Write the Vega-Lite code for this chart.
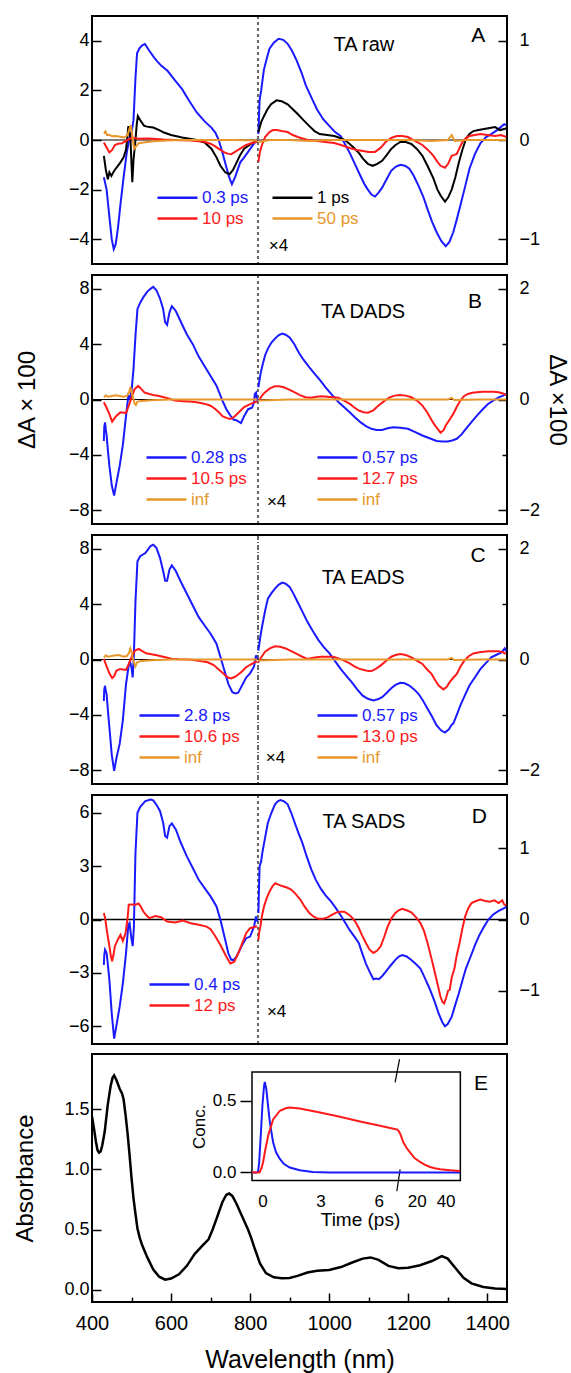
{
  "$schema": "https://vega.github.io/schema/vega-lite/v6.json",
  "padding": {"left": 12, "top": 14, "right": 2, "bottom": 2},
  "spacing": 7,
  "datasets": {
    "panelA": [
      {"s":"0.3 ps","wl":430,"v":-1.5},{"s":"0.3 ps","wl":437,"v":-2.0},{"s":"0.3 ps","wl":444,"v":-3.1},{"s":"0.3 ps","wl":450,"v":-4.0},{"s":"0.3 ps","wl":455,"v":-4.4},{"s":"0.3 ps","wl":460,"v":-4.2},{"s":"0.3 ps","wl":466,"v":-3.5},{"s":"0.3 ps","wl":472,"v":-2.6},{"s":"0.3 ps","wl":480,"v":-1.5},{"s":"0.3 ps","wl":488,"v":-0.5},{"s":"0.3 ps","wl":495,"v":0.1},{"s":"0.3 ps","wl":500,"v":0.3},{"s":"0.3 ps","wl":505,"v":0.8},{"s":"0.3 ps","wl":510,"v":2.5},{"s":"0.3 ps","wl":514,"v":3.5},{"s":"0.3 ps","wl":520,"v":3.7},{"s":"0.3 ps","wl":527,"v":3.82},{"s":"0.3 ps","wl":534,"v":3.87},{"s":"0.3 ps","wl":545,"v":3.6},{"s":"0.3 ps","wl":556,"v":3.35},{"s":"0.3 ps","wl":564,"v":3.19},{"s":"0.3 ps","wl":575,"v":3.0},{"s":"0.3 ps","wl":591,"v":2.79},{"s":"0.3 ps","wl":610,"v":2.4},{"s":"0.3 ps","wl":628,"v":2.05},{"s":"0.3 ps","wl":645,"v":1.6},{"s":"0.3 ps","wl":665,"v":1.11},{"s":"0.3 ps","wl":685,"v":0.75},{"s":"0.3 ps","wl":702,"v":0.5},{"s":"0.3 ps","wl":712,"v":0.3},{"s":"0.3 ps","wl":720,"v":0.03},{"s":"0.3 ps","wl":730,"v":-0.5},{"s":"0.3 ps","wl":739,"v":-1.04},{"s":"0.3 ps","wl":747,"v":-1.5},{"s":"0.3 ps","wl":754,"v":-1.78},{"s":"0.3 ps","wl":762,"v":-1.5},{"s":"0.3 ps","wl":775,"v":-0.9},{"s":"0.3 ps","wl":785,"v":-0.7},{"s":"0.3 ps","wl":794,"v":-0.5},{"s":"0.3 ps","wl":803,"v":-0.3},{"s":"0.3 ps","wl":812,"v":-0.1},{"s":"0.3 ps","wl":818,"v":0.0},
      {"s":"0.3 ps","wl":821,"v":0.06},{"s":"0.3 ps","wl":824,"v":0.4},{"s":"0.3 ps","wl":828,"v":0.5},{"s":"0.3 ps","wl":835,"v":0.71},{"s":"0.3 ps","wl":842,"v":0.82},{"s":"0.3 ps","wl":849,"v":0.92},{"s":"0.3 ps","wl":860,"v":0.98},{"s":"0.3 ps","wl":872,"v":1.02},{"s":"0.3 ps","wl":884,"v":1.01},{"s":"0.3 ps","wl":895,"v":0.97},{"s":"0.3 ps","wl":906,"v":0.9},{"s":"0.3 ps","wl":918,"v":0.8},{"s":"0.3 ps","wl":930,"v":0.68},{"s":"0.3 ps","wl":941,"v":0.55},{"s":"0.3 ps","wl":955,"v":0.43},{"s":"0.3 ps","wl":969,"v":0.31},{"s":"0.3 ps","wl":985,"v":0.21},{"s":"0.3 ps","wl":1001,"v":0.14},{"s":"0.3 ps","wl":1015,"v":0.08},{"s":"0.3 ps","wl":1029,"v":0.04},{"s":"0.3 ps","wl":1040,"v":-0.04},{"s":"0.3 ps","wl":1052,"v":-0.13},{"s":"0.3 ps","wl":1065,"v":-0.24},{"s":"0.3 ps","wl":1079,"v":-0.36},{"s":"0.3 ps","wl":1090,"v":-0.45},{"s":"0.3 ps","wl":1098,"v":-0.5},{"s":"0.3 ps","wl":1107,"v":-0.55},{"s":"0.3 ps","wl":1116,"v":-0.57},{"s":"0.3 ps","wl":1125,"v":-0.53},{"s":"0.3 ps","wl":1134,"v":-0.48},{"s":"0.3 ps","wl":1146,"v":-0.39},{"s":"0.3 ps","wl":1157,"v":-0.31},{"s":"0.3 ps","wl":1168,"v":-0.27},{"s":"0.3 ps","wl":1180,"v":-0.25},{"s":"0.3 ps","wl":1192,"v":-0.26},{"s":"0.3 ps","wl":1203,"v":-0.29},{"s":"0.3 ps","wl":1214,"v":-0.36},{"s":"0.3 ps","wl":1226,"v":-0.46},{"s":"0.3 ps","wl":1238,"v":-0.57},{"s":"0.3 ps","wl":1249,"v":-0.7},{"s":"0.3 ps","wl":1260,"v":-0.82},{"s":"0.3 ps","wl":1272,"v":-0.93},{"s":"0.3 ps","wl":1284,"v":-1.02},{"s":"0.3 ps","wl":1295,"v":-1.07},{"s":"0.3 ps","wl":1304,"v":-1.03},{"s":"0.3 ps","wl":1314,"v":-0.93},{"s":"0.3 ps","wl":1323,"v":-0.8},{"s":"0.3 ps","wl":1332,"v":-0.66},{"s":"0.3 ps","wl":1344,"v":-0.47},{"s":"0.3 ps","wl":1355,"v":-0.29},{"s":"0.3 ps","wl":1369,"v":-0.14},{"s":"0.3 ps","wl":1383,"v":-0.03},{"s":"0.3 ps","wl":1397,"v":0.03},{"s":"0.3 ps","wl":1410,"v":0.06},{"s":"0.3 ps","wl":1425,"v":0.1},{"s":"0.3 ps","wl":1443,"v":0.16},{"s":"0.3 ps","wl":1448,"v":0.15},
      {"s":"1 ps","wl":430,"v":-0.64},{"s":"1 ps","wl":435,"v":-1.2},{"s":"1 ps","wl":440,"v":-1.58},{"s":"1 ps","wl":444,"v":-1.3},{"s":"1 ps","wl":449,"v":-1.45},{"s":"1 ps","wl":454,"v":-1.3},{"s":"1 ps","wl":458,"v":-1.2},{"s":"1 ps","wl":465,"v":-1.05},{"s":"1 ps","wl":472,"v":-0.9},{"s":"1 ps","wl":480,"v":-0.7},{"s":"1 ps","wl":486,"v":-0.4},{"s":"1 ps","wl":490,"v":0.2},{"s":"1 ps","wl":492,"v":0.56},{"s":"1 ps","wl":495,"v":0.3},{"s":"1 ps","wl":497,"v":0.16},{"s":"1 ps","wl":500,"v":-1.0},{"s":"1 ps","wl":502,"v":-1.7},{"s":"1 ps","wl":505,"v":-0.8},{"s":"1 ps","wl":510,"v":0.0},{"s":"1 ps","wl":513,"v":0.6},{"s":"1 ps","wl":516,"v":0.97},{"s":"1 ps","wl":524,"v":0.75},{"s":"1 ps","wl":532,"v":0.57},{"s":"1 ps","wl":545,"v":0.52},{"s":"1 ps","wl":555,"v":0.5},{"s":"1 ps","wl":570,"v":0.4},{"s":"1 ps","wl":582,"v":0.3},{"s":"1 ps","wl":600,"v":0.2},{"s":"1 ps","wl":628,"v":0.1},{"s":"1 ps","wl":665,"v":0.0},{"s":"1 ps","wl":685,"v":-0.1},{"s":"1 ps","wl":702,"v":-0.35},{"s":"1 ps","wl":715,"v":-0.7},{"s":"1 ps","wl":725,"v":-1.04},{"s":"1 ps","wl":737,"v":-1.3},{"s":"1 ps","wl":748,"v":-1.38},{"s":"1 ps","wl":757,"v":-1.2},{"s":"1 ps","wl":766,"v":-0.9},{"s":"1 ps","wl":775,"v":-0.6},{"s":"1 ps","wl":785,"v":-0.35},{"s":"1 ps","wl":803,"v":-0.15},{"s":"1 ps","wl":818,"v":0.0},
      {"s":"1 ps","wl":821,"v":0.08},{"s":"1 ps","wl":828,"v":0.18},{"s":"1 ps","wl":835,"v":0.24},{"s":"1 ps","wl":844,"v":0.31},{"s":"1 ps","wl":853,"v":0.36},{"s":"1 ps","wl":867,"v":0.4},{"s":"1 ps","wl":880,"v":0.39},{"s":"1 ps","wl":895,"v":0.36},{"s":"1 ps","wl":908,"v":0.31},{"s":"1 ps","wl":921,"v":0.26},{"s":"1 ps","wl":935,"v":0.2},{"s":"1 ps","wl":950,"v":0.14},{"s":"1 ps","wl":963,"v":0.09},{"s":"1 ps","wl":976,"v":0.06},{"s":"1 ps","wl":995,"v":0.05},{"s":"1 ps","wl":1013,"v":0.04},{"s":"1 ps","wl":1028,"v":0.02},{"s":"1 ps","wl":1040,"v":0.0},{"s":"1 ps","wl":1052,"v":-0.04},{"s":"1 ps","wl":1063,"v":-0.08},{"s":"1 ps","wl":1075,"v":-0.13},{"s":"1 ps","wl":1086,"v":-0.19},{"s":"1 ps","wl":1098,"v":-0.24},{"s":"1 ps","wl":1110,"v":-0.26},{"s":"1 ps","wl":1122,"v":-0.24},{"s":"1 ps","wl":1134,"v":-0.21},{"s":"1 ps","wl":1146,"v":-0.15},{"s":"1 ps","wl":1157,"v":-0.09},{"s":"1 ps","wl":1168,"v":-0.05},{"s":"1 ps","wl":1180,"v":-0.02},{"s":"1 ps","wl":1194,"v":-0.02},{"s":"1 ps","wl":1208,"v":-0.04},{"s":"1 ps","wl":1222,"v":-0.09},{"s":"1 ps","wl":1236,"v":-0.16},{"s":"1 ps","wl":1250,"v":-0.27},{"s":"1 ps","wl":1264,"v":-0.39},{"s":"1 ps","wl":1274,"v":-0.5},{"s":"1 ps","wl":1282,"v":-0.56},{"s":"1 ps","wl":1293,"v":-0.62},{"s":"1 ps","wl":1301,"v":-0.58},{"s":"1 ps","wl":1310,"v":-0.5},{"s":"1 ps","wl":1319,"v":-0.38},{"s":"1 ps","wl":1328,"v":-0.23},{"s":"1 ps","wl":1337,"v":-0.1},{"s":"1 ps","wl":1346,"v":0.01},{"s":"1 ps","wl":1355,"v":0.06},{"s":"1 ps","wl":1365,"v":0.09},{"s":"1 ps","wl":1378,"v":0.1},{"s":"1 ps","wl":1392,"v":0.11},{"s":"1 ps","wl":1406,"v":0.12},{"s":"1 ps","wl":1420,"v":0.13},{"s":"1 ps","wl":1432,"v":0.1},{"s":"1 ps","wl":1443,"v":0.11},{"s":"1 ps","wl":1448,"v":0.12},
      {"s":"10 ps","wl":430,"v":-0.1},{"s":"10 ps","wl":437,"v":-0.3},{"s":"10 ps","wl":444,"v":-0.5},{"s":"10 ps","wl":451,"v":-0.4},{"s":"10 ps","wl":458,"v":-0.2},{"s":"10 ps","wl":466,"v":-0.15},{"s":"10 ps","wl":476,"v":-0.13},{"s":"10 ps","wl":484,"v":-0.05},{"s":"10 ps","wl":490,"v":0.0},{"s":"10 ps","wl":496,"v":0.05},{"s":"10 ps","wl":502,"v":0.1},{"s":"10 ps","wl":510,"v":0.07},{"s":"10 ps","wl":518,"v":0.05},{"s":"10 ps","wl":540,"v":0.06},{"s":"10 ps","wl":555,"v":0.05},{"s":"10 ps","wl":580,"v":0.02},{"s":"10 ps","wl":610,"v":0.0},{"s":"10 ps","wl":650,"v":-0.02},{"s":"10 ps","wl":683,"v":-0.07},{"s":"10 ps","wl":700,"v":-0.15},{"s":"10 ps","wl":712,"v":-0.26},{"s":"10 ps","wl":720,"v":-0.35},{"s":"10 ps","wl":735,"v":-0.5},{"s":"10 ps","wl":745,"v":-0.56},{"s":"10 ps","wl":752,"v":-0.57},{"s":"10 ps","wl":760,"v":-0.5},{"s":"10 ps","wl":768,"v":-0.42},{"s":"10 ps","wl":775,"v":-0.35},{"s":"10 ps","wl":790,"v":-0.2},{"s":"10 ps","wl":803,"v":-0.13},{"s":"10 ps","wl":818,"v":-0.07},
      {"s":"10 ps","wl":821,"v":-0.22},{"s":"10 ps","wl":825,"v":-0.12},{"s":"10 ps","wl":829,"v":-0.06},{"s":"10 ps","wl":838,"v":0.03},{"s":"10 ps","wl":849,"v":0.08},{"s":"10 ps","wl":858,"v":0.1},{"s":"10 ps","wl":867,"v":0.1},{"s":"10 ps","wl":880,"v":0.09},{"s":"10 ps","wl":895,"v":0.08},{"s":"10 ps","wl":908,"v":0.05},{"s":"10 ps","wl":921,"v":0.03},{"s":"10 ps","wl":945,"v":0.0},{"s":"10 ps","wl":969,"v":-0.01},{"s":"10 ps","wl":990,"v":-0.02},{"s":"10 ps","wl":1013,"v":-0.03},{"s":"10 ps","wl":1030,"v":-0.05},{"s":"10 ps","wl":1052,"v":-0.08},{"s":"10 ps","wl":1070,"v":-0.1},{"s":"10 ps","wl":1086,"v":-0.11},{"s":"10 ps","wl":1100,"v":-0.12},{"s":"10 ps","wl":1116,"v":-0.12},{"s":"10 ps","wl":1130,"v":-0.08},{"s":"10 ps","wl":1143,"v":-0.02},{"s":"10 ps","wl":1157,"v":0.02},{"s":"10 ps","wl":1171,"v":0.04},{"s":"10 ps","wl":1185,"v":0.04},{"s":"10 ps","wl":1199,"v":0.03},{"s":"10 ps","wl":1217,"v":-0.01},{"s":"10 ps","wl":1236,"v":-0.05},{"s":"10 ps","wl":1250,"v":-0.1},{"s":"10 ps","wl":1264,"v":-0.16},{"s":"10 ps","wl":1274,"v":-0.22},{"s":"10 ps","wl":1282,"v":-0.26},{"s":"10 ps","wl":1293,"v":-0.28},{"s":"10 ps","wl":1301,"v":-0.24},{"s":"10 ps","wl":1310,"v":-0.16},{"s":"10 ps","wl":1317,"v":-0.15},{"s":"10 ps","wl":1323,"v":-0.14},{"s":"10 ps","wl":1330,"v":-0.08},{"s":"10 ps","wl":1337,"v":-0.02},{"s":"10 ps","wl":1346,"v":0.02},{"s":"10 ps","wl":1355,"v":0.04},{"s":"10 ps","wl":1369,"v":0.05},{"s":"10 ps","wl":1383,"v":0.06},{"s":"10 ps","wl":1400,"v":0.05},{"s":"10 ps","wl":1420,"v":0.04},{"s":"10 ps","wl":1435,"v":0.05},{"s":"10 ps","wl":1448,"v":0.03},
      {"s":"50 ps","wl":430,"v":0.27},{"s":"50 ps","wl":434,"v":0.35},{"s":"50 ps","wl":438,"v":0.2},{"s":"50 ps","wl":444,"v":0.2},{"s":"50 ps","wl":452,"v":0.15},{"s":"50 ps","wl":460,"v":0.16},{"s":"50 ps","wl":472,"v":0.13},{"s":"50 ps","wl":482,"v":0.1},{"s":"50 ps","wl":490,"v":0.2},{"s":"50 ps","wl":495,"v":0.46},{"s":"50 ps","wl":498,"v":0.6},{"s":"50 ps","wl":501,"v":0.3},{"s":"50 ps","wl":504,"v":-0.1},{"s":"50 ps","wl":507,"v":-0.35},{"s":"50 ps","wl":512,"v":-0.25},{"s":"50 ps","wl":518,"v":-0.13},{"s":"50 ps","wl":530,"v":-0.1},{"s":"50 ps","wl":555,"v":-0.05},{"s":"50 ps","wl":590,"v":-0.02},{"s":"50 ps","wl":628,"v":0.0},{"s":"50 ps","wl":700,"v":0.0},{"s":"50 ps","wl":760,"v":0.0},{"s":"50 ps","wl":818,"v":-0.02},
      {"s":"50 ps","wl":821,"v":-0.02},{"s":"50 ps","wl":850,"v":0.0},{"s":"50 ps","wl":900,"v":0.0},{"s":"50 ps","wl":950,"v":-0.01},{"s":"50 ps","wl":1000,"v":0.0},{"s":"50 ps","wl":1050,"v":0.0},{"s":"50 ps","wl":1100,"v":0.0},{"s":"50 ps","wl":1150,"v":0.0},{"s":"50 ps","wl":1200,"v":0.0},{"s":"50 ps","wl":1260,"v":-0.01},{"s":"50 ps","wl":1300,"v":0.0},{"s":"50 ps","wl":1310,"v":0.05},{"s":"50 ps","wl":1318,"v":-0.01},{"s":"50 ps","wl":1350,"v":0.0},{"s":"50 ps","wl":1400,"v":0.0},{"s":"50 ps","wl":1448,"v":0.0}
    ],
    "panelB": [
      {"s":"0.28 ps","wl":430,"v":-3.0},{"s":"0.28 ps","wl":431,"v":-2.0},{"s":"0.28 ps","wl":433,"v":-1.65},{"s":"0.28 ps","wl":435,"v":-2.2},{"s":"0.28 ps","wl":437,"v":-2.6},{"s":"0.28 ps","wl":440,"v":-3.6},{"s":"0.28 ps","wl":444,"v":-4.8},{"s":"0.28 ps","wl":450,"v":-6.2},{"s":"0.28 ps","wl":456,"v":-6.95},{"s":"0.28 ps","wl":462,"v":-6.0},{"s":"0.28 ps","wl":470,"v":-4.8},{"s":"0.28 ps","wl":478,"v":-3.3},{"s":"0.28 ps","wl":486,"v":-1.2},{"s":"0.28 ps","wl":492,"v":0.28},{"s":"0.28 ps","wl":496,"v":0.04},{"s":"0.28 ps","wl":500,"v":0.6},{"s":"0.28 ps","wl":505,"v":2.2},{"s":"0.28 ps","wl":510,"v":4.6},{"s":"0.28 ps","wl":515,"v":6.55},{"s":"0.28 ps","wl":522,"v":7.0},{"s":"0.28 ps","wl":530,"v":7.4},{"s":"0.28 ps","wl":540,"v":7.8},{"s":"0.28 ps","wl":548,"v":8.0},{"s":"0.28 ps","wl":555,"v":8.15},{"s":"0.28 ps","wl":563,"v":7.9},{"s":"0.28 ps","wl":572,"v":7.3},{"s":"0.28 ps","wl":580,"v":6.55},{"s":"0.28 ps","wl":585,"v":5.6},{"s":"0.28 ps","wl":590,"v":5.4},{"s":"0.28 ps","wl":596,"v":6.3},{"s":"0.28 ps","wl":602,"v":6.75},{"s":"0.28 ps","wl":612,"v":6.4},{"s":"0.28 ps","wl":625,"v":5.6},{"s":"0.28 ps","wl":640,"v":4.7},{"s":"0.28 ps","wl":655,"v":4.0},{"s":"0.28 ps","wl":670,"v":3.1},{"s":"0.28 ps","wl":685,"v":2.4},{"s":"0.28 ps","wl":700,"v":1.7},{"s":"0.28 ps","wl":715,"v":1.0},{"s":"0.28 ps","wl":730,"v":-0.08},{"s":"0.28 ps","wl":740,"v":-0.7},{"s":"0.28 ps","wl":750,"v":-1.16},{"s":"0.28 ps","wl":758,"v":-1.45},{"s":"0.28 ps","wl":765,"v":-1.5},{"s":"0.28 ps","wl":771,"v":-1.6},{"s":"0.28 ps","wl":777,"v":-1.7},{"s":"0.28 ps","wl":785,"v":-1.2},{"s":"0.28 ps","wl":795,"v":-0.7},{"s":"0.28 ps","wl":805,"v":-0.6},{"s":"0.28 ps","wl":810,"v":-0.2},{"s":"0.28 ps","wl":812,"v":0.4},{"s":"0.28 ps","wl":815,"v":0.5},{"s":"0.28 ps","wl":818,"v":-0.1},
      {"s":"10.5 ps","wl":430,"v":-0.2},{"s":"10.5 ps","wl":437,"v":-0.6},{"s":"10.5 ps","wl":444,"v":-1.05},{"s":"10.5 ps","wl":451,"v":-1.6},{"s":"10.5 ps","wl":456,"v":-1.4},{"s":"10.5 ps","wl":462,"v":-1.17},{"s":"10.5 ps","wl":472,"v":-0.93},{"s":"10.5 ps","wl":480,"v":-0.95},{"s":"10.5 ps","wl":486,"v":-0.98},{"s":"10.5 ps","wl":491,"v":-0.6},{"s":"10.5 ps","wl":496,"v":-0.2},{"s":"10.5 ps","wl":502,"v":0.3},{"s":"10.5 ps","wl":508,"v":0.76},{"s":"10.5 ps","wl":517,"v":0.98},{"s":"10.5 ps","wl":525,"v":0.75},{"s":"10.5 ps","wl":533,"v":0.5},{"s":"10.5 ps","wl":545,"v":0.4},{"s":"10.5 ps","wl":555,"v":0.33},{"s":"10.5 ps","wl":570,"v":0.25},{"s":"10.5 ps","wl":582,"v":0.16},{"s":"10.5 ps","wl":596,"v":0.05},{"s":"10.5 ps","wl":610,"v":-0.08},{"s":"10.5 ps","wl":630,"v":-0.12},{"s":"10.5 ps","wl":647,"v":-0.15},{"s":"10.5 ps","wl":665,"v":-0.2},{"s":"10.5 ps","wl":684,"v":-0.3},{"s":"10.5 ps","wl":700,"v":-0.45},{"s":"10.5 ps","wl":712,"v":-0.69},{"s":"10.5 ps","wl":722,"v":-0.95},{"s":"10.5 ps","wl":730,"v":-1.2},{"s":"10.5 ps","wl":740,"v":-1.33},{"s":"10.5 ps","wl":750,"v":-1.4},{"s":"10.5 ps","wl":758,"v":-1.3},{"s":"10.5 ps","wl":767,"v":-1.05},{"s":"10.5 ps","wl":776,"v":-0.8},{"s":"10.5 ps","wl":785,"v":-0.55},{"s":"10.5 ps","wl":795,"v":-0.4},{"s":"10.5 ps","wl":803,"v":-0.3},{"s":"10.5 ps","wl":812,"v":-0.2},{"s":"10.5 ps","wl":818,"v":-0.15},
      {"s":"inf","wl":430,"v":0.15},{"s":"inf","wl":435,"v":0.3},{"s":"inf","wl":440,"v":0.2},{"s":"inf","wl":450,"v":0.25},{"s":"inf","wl":460,"v":0.3},{"s":"inf","wl":470,"v":0.25},{"s":"inf","wl":480,"v":0.2},{"s":"inf","wl":488,"v":0.25},{"s":"inf","wl":494,"v":0.5},{"s":"inf","wl":497,"v":0.9},{"s":"inf","wl":500,"v":0.6},{"s":"inf","wl":504,"v":0.1},{"s":"inf","wl":508,"v":-0.3},{"s":"inf","wl":511,"v":-0.4},{"s":"inf","wl":515,"v":-0.15},{"s":"inf","wl":525,"v":-0.1},{"s":"inf","wl":550,"v":-0.05},{"s":"inf","wl":600,"v":0.0},{"s":"inf","wl":700,"v":0.0},{"s":"inf","wl":818,"v":0.0},
      {"s":"0.57 ps","wl":821,"v":0.22},{"s":"0.57 ps","wl":826,"v":0.45},{"s":"0.57 ps","wl":831,"v":0.61},{"s":"0.57 ps","wl":838,"v":0.8},{"s":"0.57 ps","wl":845,"v":0.92},{"s":"0.57 ps","wl":854,"v":1.03},{"s":"0.57 ps","wl":863,"v":1.1},{"s":"0.57 ps","wl":872,"v":1.16},{"s":"0.57 ps","wl":881,"v":1.19},{"s":"0.57 ps","wl":890,"v":1.17},{"s":"0.57 ps","wl":900,"v":1.12},{"s":"0.57 ps","wl":912,"v":1.0},{"s":"0.57 ps","wl":923,"v":0.85},{"s":"0.57 ps","wl":936,"v":0.71},{"s":"0.57 ps","wl":950,"v":0.58},{"s":"0.57 ps","wl":964,"v":0.46},{"s":"0.57 ps","wl":978,"v":0.34},{"s":"0.57 ps","wl":991,"v":0.22},{"s":"0.57 ps","wl":1005,"v":0.1},{"s":"0.57 ps","wl":1024,"v":-0.05},{"s":"0.57 ps","wl":1038,"v":-0.14},{"s":"0.57 ps","wl":1052,"v":-0.23},{"s":"0.57 ps","wl":1065,"v":-0.32},{"s":"0.57 ps","wl":1079,"v":-0.41},{"s":"0.57 ps","wl":1093,"v":-0.48},{"s":"0.57 ps","wl":1107,"v":-0.53},{"s":"0.57 ps","wl":1120,"v":-0.55},{"s":"0.57 ps","wl":1134,"v":-0.55},{"s":"0.57 ps","wl":1148,"v":-0.52},{"s":"0.57 ps","wl":1162,"v":-0.5},{"s":"0.57 ps","wl":1180,"v":-0.51},{"s":"0.57 ps","wl":1199,"v":-0.53},{"s":"0.57 ps","wl":1218,"v":-0.59},{"s":"0.57 ps","wl":1236,"v":-0.65},{"s":"0.57 ps","wl":1254,"v":-0.7},{"s":"0.57 ps","wl":1272,"v":-0.75},{"s":"0.57 ps","wl":1286,"v":-0.76},{"s":"0.57 ps","wl":1300,"v":-0.76},{"s":"0.57 ps","wl":1311,"v":-0.74},{"s":"0.57 ps","wl":1323,"v":-0.71},{"s":"0.57 ps","wl":1335,"v":-0.63},{"s":"0.57 ps","wl":1346,"v":-0.53},{"s":"0.57 ps","wl":1360,"v":-0.41},{"s":"0.57 ps","wl":1374,"v":-0.29},{"s":"0.57 ps","wl":1388,"v":-0.18},{"s":"0.57 ps","wl":1402,"v":-0.08},{"s":"0.57 ps","wl":1415,"v":-0.02},{"s":"0.57 ps","wl":1429,"v":0.04},{"s":"0.57 ps","wl":1440,"v":0.07},{"s":"0.57 ps","wl":1448,"v":0.1},
      {"s":"12.7 ps","wl":823,"v":-0.01},{"s":"12.7 ps","wl":830,"v":0.07},{"s":"12.7 ps","wl":838,"v":0.13},{"s":"12.7 ps","wl":850,"v":0.2},{"s":"12.7 ps","wl":862,"v":0.24},{"s":"12.7 ps","wl":873,"v":0.24},{"s":"12.7 ps","wl":885,"v":0.22},{"s":"12.7 ps","wl":899,"v":0.18},{"s":"12.7 ps","wl":913,"v":0.13},{"s":"12.7 ps","wl":926,"v":0.08},{"s":"12.7 ps","wl":940,"v":0.04},{"s":"12.7 ps","wl":954,"v":0.03},{"s":"12.7 ps","wl":968,"v":0.05},{"s":"12.7 ps","wl":982,"v":0.06},{"s":"12.7 ps","wl":995,"v":0.05},{"s":"12.7 ps","wl":1010,"v":0.04},{"s":"12.7 ps","wl":1024,"v":0.03},{"s":"12.7 ps","wl":1038,"v":-0.02},{"s":"12.7 ps","wl":1052,"v":-0.08},{"s":"12.7 ps","wl":1063,"v":-0.14},{"s":"12.7 ps","wl":1075,"v":-0.2},{"s":"12.7 ps","wl":1087,"v":-0.23},{"s":"12.7 ps","wl":1098,"v":-0.24},{"s":"12.7 ps","wl":1111,"v":-0.2},{"s":"12.7 ps","wl":1125,"v":-0.11},{"s":"12.7 ps","wl":1139,"v":-0.03},{"s":"12.7 ps","wl":1153,"v":0.04},{"s":"12.7 ps","wl":1166,"v":0.07},{"s":"12.7 ps","wl":1180,"v":0.08},{"s":"12.7 ps","wl":1194,"v":0.07},{"s":"12.7 ps","wl":1208,"v":0.04},{"s":"12.7 ps","wl":1222,"v":-0.02},{"s":"12.7 ps","wl":1236,"v":-0.11},{"s":"12.7 ps","wl":1248,"v":-0.23},{"s":"12.7 ps","wl":1259,"v":-0.37},{"s":"12.7 ps","wl":1266,"v":-0.45},{"s":"12.7 ps","wl":1272,"v":-0.51},{"s":"12.7 ps","wl":1282,"v":-0.6},{"s":"12.7 ps","wl":1290,"v":-0.55},{"s":"12.7 ps","wl":1295,"v":-0.47},{"s":"12.7 ps","wl":1305,"v":-0.36},{"s":"12.7 ps","wl":1314,"v":-0.26},{"s":"12.7 ps","wl":1323,"v":-0.13},{"s":"12.7 ps","wl":1332,"v":-0.02},{"s":"12.7 ps","wl":1341,"v":0.06},{"s":"12.7 ps","wl":1351,"v":0.1},{"s":"12.7 ps","wl":1362,"v":0.12},{"s":"12.7 ps","wl":1374,"v":0.13},{"s":"12.7 ps","wl":1388,"v":0.14},{"s":"12.7 ps","wl":1402,"v":0.14},{"s":"12.7 ps","wl":1416,"v":0.14},{"s":"12.7 ps","wl":1429,"v":0.13},{"s":"12.7 ps","wl":1440,"v":0.11},{"s":"12.7 ps","wl":1447,"v":0.08},
      {"s":"inf","wl":821,"v":-0.02},{"s":"inf","wl":900,"v":0.0},{"s":"inf","wl":1000,"v":0.0},{"s":"inf","wl":1100,"v":0.0},{"s":"inf","wl":1200,"v":0.0},{"s":"inf","wl":1300,"v":0.0},{"s":"inf","wl":1310,"v":0.03},{"s":"inf","wl":1316,"v":-0.01},{"s":"inf","wl":1380,"v":0.0},{"s":"inf","wl":1448,"v":0.0}
    ],
    "panelC": [
      {"s":"2.8 ps","wl":430,"v":-3.0},{"s":"2.8 ps","wl":431,"v":-2.2},{"s":"2.8 ps","wl":433,"v":-1.9},{"s":"2.8 ps","wl":435,"v":-2.3},{"s":"2.8 ps","wl":437,"v":-2.5},{"s":"2.8 ps","wl":440,"v":-3.6},{"s":"2.8 ps","wl":444,"v":-4.9},{"s":"2.8 ps","wl":450,"v":-6.9},{"s":"2.8 ps","wl":456,"v":-8.05},{"s":"2.8 ps","wl":462,"v":-7.1},{"s":"2.8 ps","wl":470,"v":-6.1},{"s":"2.8 ps","wl":478,"v":-4.4},{"s":"2.8 ps","wl":486,"v":-1.8},{"s":"2.8 ps","wl":492,"v":-0.6},{"s":"2.8 ps","wl":496,"v":-0.1},{"s":"2.8 ps","wl":500,"v":-0.6},{"s":"2.8 ps","wl":503,"v":-1.3},{"s":"2.8 ps","wl":506,"v":0.35},{"s":"2.8 ps","wl":510,"v":4.2},{"s":"2.8 ps","wl":515,"v":7.1},{"s":"2.8 ps","wl":522,"v":7.47},{"s":"2.8 ps","wl":535,"v":7.7},{"s":"2.8 ps","wl":548,"v":8.2},{"s":"2.8 ps","wl":555,"v":8.3},{"s":"2.8 ps","wl":563,"v":8.07},{"s":"2.8 ps","wl":572,"v":7.35},{"s":"2.8 ps","wl":580,"v":6.4},{"s":"2.8 ps","wl":585,"v":5.7},{"s":"2.8 ps","wl":590,"v":5.7},{"s":"2.8 ps","wl":596,"v":6.5},{"s":"2.8 ps","wl":602,"v":6.8},{"s":"2.8 ps","wl":612,"v":6.4},{"s":"2.8 ps","wl":625,"v":5.6},{"s":"2.8 ps","wl":640,"v":4.75},{"s":"2.8 ps","wl":655,"v":3.9},{"s":"2.8 ps","wl":670,"v":3.06},{"s":"2.8 ps","wl":685,"v":2.46},{"s":"2.8 ps","wl":700,"v":1.86},{"s":"2.8 ps","wl":715,"v":1.14},{"s":"2.8 ps","wl":725,"v":0.18},{"s":"2.8 ps","wl":735,"v":-0.8},{"s":"2.8 ps","wl":745,"v":-1.76},{"s":"2.8 ps","wl":755,"v":-2.36},{"s":"2.8 ps","wl":763,"v":-2.45},{"s":"2.8 ps","wl":770,"v":-2.4},{"s":"2.8 ps","wl":780,"v":-1.85},{"s":"2.8 ps","wl":790,"v":-1.3},{"s":"2.8 ps","wl":800,"v":-1.0},{"s":"2.8 ps","wl":810,"v":-0.5},{"s":"2.8 ps","wl":815,"v":0.3},{"s":"2.8 ps","wl":818,"v":0.0},
      {"s":"10.6 ps","wl":430,"v":0.05},{"s":"10.6 ps","wl":437,"v":-0.5},{"s":"10.6 ps","wl":444,"v":-1.0},{"s":"10.6 ps","wl":451,"v":-1.35},{"s":"10.6 ps","wl":456,"v":-1.2},{"s":"10.6 ps","wl":462,"v":-0.8},{"s":"10.6 ps","wl":470,"v":-0.7},{"s":"10.6 ps","wl":476,"v":-0.7},{"s":"10.6 ps","wl":486,"v":-0.75},{"s":"10.6 ps","wl":492,"v":-0.4},{"s":"10.6 ps","wl":498,"v":0.05},{"s":"10.6 ps","wl":503,"v":0.35},{"s":"10.6 ps","wl":509,"v":0.65},{"s":"10.6 ps","wl":518,"v":0.77},{"s":"10.6 ps","wl":527,"v":0.6},{"s":"10.6 ps","wl":537,"v":0.45},{"s":"10.6 ps","wl":550,"v":0.38},{"s":"10.6 ps","wl":564,"v":0.3},{"s":"10.6 ps","wl":580,"v":0.2},{"s":"10.6 ps","wl":601,"v":0.05},{"s":"10.6 ps","wl":620,"v":0.02},{"s":"10.6 ps","wl":647,"v":0.0},{"s":"10.6 ps","wl":670,"v":-0.1},{"s":"10.6 ps","wl":693,"v":-0.2},{"s":"10.6 ps","wl":708,"v":-0.4},{"s":"10.6 ps","wl":720,"v":-0.7},{"s":"10.6 ps","wl":730,"v":-0.95},{"s":"10.6 ps","wl":739,"v":-1.2},{"s":"10.6 ps","wl":746,"v":-1.32},{"s":"10.6 ps","wl":752,"v":-1.37},{"s":"10.6 ps","wl":762,"v":-1.25},{"s":"10.6 ps","wl":771,"v":-1.07},{"s":"10.6 ps","wl":780,"v":-0.85},{"s":"10.6 ps","wl":789,"v":-0.58},{"s":"10.6 ps","wl":800,"v":-0.38},{"s":"10.6 ps","wl":812,"v":-0.2},{"s":"10.6 ps","wl":818,"v":-0.15},
      {"s":"inf","wl":430,"v":0.15},{"s":"inf","wl":435,"v":0.3},{"s":"inf","wl":440,"v":0.2},{"s":"inf","wl":450,"v":0.25},{"s":"inf","wl":460,"v":0.3},{"s":"inf","wl":470,"v":0.3},{"s":"inf","wl":480,"v":0.2},{"s":"inf","wl":488,"v":0.25},{"s":"inf","wl":494,"v":0.5},{"s":"inf","wl":497,"v":0.8},{"s":"inf","wl":500,"v":0.6},{"s":"inf","wl":503,"v":0.1},{"s":"inf","wl":507,"v":-0.3},{"s":"inf","wl":510,"v":-0.5},{"s":"inf","wl":514,"v":-0.2},{"s":"inf","wl":525,"v":-0.1},{"s":"inf","wl":550,"v":-0.05},{"s":"inf","wl":600,"v":0.0},{"s":"inf","wl":700,"v":0.0},{"s":"inf","wl":818,"v":0.0},
      {"s":"0.57 ps","wl":821,"v":0.16},{"s":"0.57 ps","wl":826,"v":0.42},{"s":"0.57 ps","wl":831,"v":0.62},{"s":"0.57 ps","wl":838,"v":0.88},{"s":"0.57 ps","wl":845,"v":1.1},{"s":"0.57 ps","wl":854,"v":1.2},{"s":"0.57 ps","wl":863,"v":1.28},{"s":"0.57 ps","wl":872,"v":1.35},{"s":"0.57 ps","wl":881,"v":1.39},{"s":"0.57 ps","wl":890,"v":1.37},{"s":"0.57 ps","wl":900,"v":1.31},{"s":"0.57 ps","wl":909,"v":1.2},{"s":"0.57 ps","wl":918,"v":1.07},{"s":"0.57 ps","wl":932,"v":0.87},{"s":"0.57 ps","wl":945,"v":0.68},{"s":"0.57 ps","wl":959,"v":0.51},{"s":"0.57 ps","wl":973,"v":0.35},{"s":"0.57 ps","wl":987,"v":0.22},{"s":"0.57 ps","wl":1001,"v":0.11},{"s":"0.57 ps","wl":1015,"v":-0.03},{"s":"0.57 ps","wl":1029,"v":-0.17},{"s":"0.57 ps","wl":1043,"v":-0.29},{"s":"0.57 ps","wl":1057,"v":-0.41},{"s":"0.57 ps","wl":1070,"v":-0.53},{"s":"0.57 ps","wl":1084,"v":-0.65},{"s":"0.57 ps","wl":1098,"v":-0.71},{"s":"0.57 ps","wl":1112,"v":-0.74},{"s":"0.57 ps","wl":1123,"v":-0.72},{"s":"0.57 ps","wl":1134,"v":-0.68},{"s":"0.57 ps","wl":1146,"v":-0.6},{"s":"0.57 ps","wl":1157,"v":-0.52},{"s":"0.57 ps","wl":1168,"v":-0.46},{"s":"0.57 ps","wl":1180,"v":-0.42},{"s":"0.57 ps","wl":1191,"v":-0.43},{"s":"0.57 ps","wl":1203,"v":-0.47},{"s":"0.57 ps","wl":1215,"v":-0.54},{"s":"0.57 ps","wl":1226,"v":-0.62},{"s":"0.57 ps","wl":1238,"v":-0.75},{"s":"0.57 ps","wl":1249,"v":-0.89},{"s":"0.57 ps","wl":1261,"v":-1.04},{"s":"0.57 ps","wl":1272,"v":-1.19},{"s":"0.57 ps","wl":1283,"v":-1.28},{"s":"0.57 ps","wl":1293,"v":-1.32},{"s":"0.57 ps","wl":1303,"v":-1.26},{"s":"0.57 ps","wl":1310,"v":-1.18},{"s":"0.57 ps","wl":1314,"v":-1.16},{"s":"0.57 ps","wl":1323,"v":-1.0},{"s":"0.57 ps","wl":1332,"v":-0.83},{"s":"0.57 ps","wl":1344,"v":-0.64},{"s":"0.57 ps","wl":1355,"v":-0.47},{"s":"0.57 ps","wl":1369,"v":-0.32},{"s":"0.57 ps","wl":1383,"v":-0.17},{"s":"0.57 ps","wl":1397,"v":-0.06},{"s":"0.57 ps","wl":1410,"v":0.04},{"s":"0.57 ps","wl":1425,"v":0.09},{"s":"0.57 ps","wl":1437,"v":0.13},{"s":"0.57 ps","wl":1444,"v":0.2},{"s":"0.57 ps","wl":1448,"v":0.15},
      {"s":"13.0 ps","wl":821,"v":-0.05},{"s":"13.0 ps","wl":829,"v":0.05},{"s":"13.0 ps","wl":838,"v":0.14},{"s":"13.0 ps","wl":850,"v":0.2},{"s":"13.0 ps","wl":863,"v":0.24},{"s":"13.0 ps","wl":876,"v":0.23},{"s":"13.0 ps","wl":890,"v":0.2},{"s":"13.0 ps","wl":904,"v":0.15},{"s":"13.0 ps","wl":918,"v":0.1},{"s":"13.0 ps","wl":932,"v":0.05},{"s":"13.0 ps","wl":945,"v":0.01},{"s":"13.0 ps","wl":960,"v":0.03},{"s":"13.0 ps","wl":978,"v":0.05},{"s":"13.0 ps","wl":995,"v":0.05},{"s":"13.0 ps","wl":1010,"v":0.05},{"s":"13.0 ps","wl":1024,"v":0.02},{"s":"13.0 ps","wl":1038,"v":-0.02},{"s":"13.0 ps","wl":1052,"v":-0.07},{"s":"13.0 ps","wl":1065,"v":-0.13},{"s":"13.0 ps","wl":1077,"v":-0.17},{"s":"13.0 ps","wl":1088,"v":-0.19},{"s":"13.0 ps","wl":1100,"v":-0.21},{"s":"13.0 ps","wl":1107,"v":-0.21},{"s":"13.0 ps","wl":1118,"v":-0.17},{"s":"13.0 ps","wl":1130,"v":-0.11},{"s":"13.0 ps","wl":1143,"v":-0.03},{"s":"13.0 ps","wl":1157,"v":0.05},{"s":"13.0 ps","wl":1168,"v":0.08},{"s":"13.0 ps","wl":1180,"v":0.1},{"s":"13.0 ps","wl":1194,"v":0.08},{"s":"13.0 ps","wl":1208,"v":0.04},{"s":"13.0 ps","wl":1222,"v":-0.02},{"s":"13.0 ps","wl":1236,"v":-0.08},{"s":"13.0 ps","wl":1248,"v":-0.18},{"s":"13.0 ps","wl":1259,"v":-0.26},{"s":"13.0 ps","wl":1268,"v":-0.37},{"s":"13.0 ps","wl":1277,"v":-0.47},{"s":"13.0 ps","wl":1289,"v":-0.54},{"s":"13.0 ps","wl":1297,"v":-0.5},{"s":"13.0 ps","wl":1305,"v":-0.41},{"s":"13.0 ps","wl":1314,"v":-0.33},{"s":"13.0 ps","wl":1323,"v":-0.26},{"s":"13.0 ps","wl":1332,"v":-0.13},{"s":"13.0 ps","wl":1342,"v":-0.02},{"s":"13.0 ps","wl":1353,"v":0.06},{"s":"13.0 ps","wl":1365,"v":0.11},{"s":"13.0 ps","wl":1380,"v":0.13},{"s":"13.0 ps","wl":1402,"v":0.15},{"s":"13.0 ps","wl":1415,"v":0.15},{"s":"13.0 ps","wl":1429,"v":0.15},{"s":"13.0 ps","wl":1440,"v":0.13},{"s":"13.0 ps","wl":1447,"v":0.1},
      {"s":"inf","wl":821,"v":-0.02},{"s":"inf","wl":900,"v":0.0},{"s":"inf","wl":1000,"v":0.0},{"s":"inf","wl":1100,"v":0.0},{"s":"inf","wl":1200,"v":0.0},{"s":"inf","wl":1300,"v":0.0},{"s":"inf","wl":1310,"v":0.03},{"s":"inf","wl":1316,"v":-0.01},{"s":"inf","wl":1380,"v":0.0},{"s":"inf","wl":1448,"v":0.0}
    ],
    "panelD": [
      {"s":"0.4 ps","wl":430,"v":-2.56},{"s":"0.4 ps","wl":431,"v":-2.0},{"s":"0.4 ps","wl":433,"v":-1.7},{"s":"0.4 ps","wl":435,"v":-1.8},{"s":"0.4 ps","wl":437,"v":-1.9},{"s":"0.4 ps","wl":440,"v":-2.5},{"s":"0.4 ps","wl":444,"v":-3.4},{"s":"0.4 ps","wl":450,"v":-5.3},{"s":"0.4 ps","wl":456,"v":-6.7},{"s":"0.4 ps","wl":462,"v":-5.94},{"s":"0.4 ps","wl":470,"v":-4.9},{"s":"0.4 ps","wl":478,"v":-3.6},{"s":"0.4 ps","wl":486,"v":-1.9},{"s":"0.4 ps","wl":492,"v":-0.3},{"s":"0.4 ps","wl":495,"v":-0.2},{"s":"0.4 ps","wl":499,"v":-0.96},{"s":"0.4 ps","wl":503,"v":-1.5},{"s":"0.4 ps","wl":506,"v":-0.4},{"s":"0.4 ps","wl":510,"v":3.74},{"s":"0.4 ps","wl":515,"v":6.0},{"s":"0.4 ps","wl":522,"v":6.34},{"s":"0.4 ps","wl":535,"v":6.66},{"s":"0.4 ps","wl":548,"v":6.75},{"s":"0.4 ps","wl":555,"v":6.7},{"s":"0.4 ps","wl":563,"v":6.45},{"s":"0.4 ps","wl":572,"v":6.1},{"s":"0.4 ps","wl":580,"v":5.44},{"s":"0.4 ps","wl":585,"v":4.7},{"s":"0.4 ps","wl":590,"v":4.6},{"s":"0.4 ps","wl":596,"v":5.25},{"s":"0.4 ps","wl":602,"v":5.4},{"s":"0.4 ps","wl":612,"v":5.06},{"s":"0.4 ps","wl":625,"v":4.3},{"s":"0.4 ps","wl":640,"v":3.55},{"s":"0.4 ps","wl":655,"v":2.9},{"s":"0.4 ps","wl":670,"v":2.23},{"s":"0.4 ps","wl":685,"v":1.76},{"s":"0.4 ps","wl":700,"v":1.3},{"s":"0.4 ps","wl":715,"v":0.73},{"s":"0.4 ps","wl":725,"v":-0.02},{"s":"0.4 ps","wl":735,"v":-0.96},{"s":"0.4 ps","wl":745,"v":-1.9},{"s":"0.4 ps","wl":752,"v":-2.25},{"s":"0.4 ps","wl":758,"v":-2.28},{"s":"0.4 ps","wl":765,"v":-2.1},{"s":"0.4 ps","wl":770,"v":-1.9},{"s":"0.4 ps","wl":780,"v":-1.43},{"s":"0.4 ps","wl":790,"v":-1.05},{"s":"0.4 ps","wl":800,"v":-0.96},{"s":"0.4 ps","wl":810,"v":-0.4},{"s":"0.4 ps","wl":815,"v":0.17},{"s":"0.4 ps","wl":818,"v":-0.11},
      {"s":"0.4 ps","wl":821,"v":0.09},{"s":"0.4 ps","wl":824,"v":0.75},{"s":"0.4 ps","wl":828,"v":0.82},{"s":"0.4 ps","wl":831,"v":0.94},{"s":"0.4 ps","wl":838,"v":1.15},{"s":"0.4 ps","wl":845,"v":1.36},{"s":"0.4 ps","wl":854,"v":1.5},{"s":"0.4 ps","wl":863,"v":1.62},{"s":"0.4 ps","wl":870,"v":1.66},{"s":"0.4 ps","wl":877,"v":1.68},{"s":"0.4 ps","wl":886,"v":1.66},{"s":"0.4 ps","wl":895,"v":1.62},{"s":"0.4 ps","wl":904,"v":1.5},{"s":"0.4 ps","wl":913,"v":1.36},{"s":"0.4 ps","wl":922,"v":1.22},{"s":"0.4 ps","wl":932,"v":1.08},{"s":"0.4 ps","wl":943,"v":0.89},{"s":"0.4 ps","wl":955,"v":0.7},{"s":"0.4 ps","wl":966,"v":0.56},{"s":"0.4 ps","wl":978,"v":0.44},{"s":"0.4 ps","wl":991,"v":0.34},{"s":"0.4 ps","wl":1005,"v":0.25},{"s":"0.4 ps","wl":1017,"v":0.16},{"s":"0.4 ps","wl":1029,"v":0.06},{"s":"0.4 ps","wl":1040,"v":-0.04},{"s":"0.4 ps","wl":1052,"v":-0.15},{"s":"0.4 ps","wl":1064,"v":-0.24},{"s":"0.4 ps","wl":1075,"v":-0.33},{"s":"0.4 ps","wl":1084,"v":-0.48},{"s":"0.4 ps","wl":1093,"v":-0.62},{"s":"0.4 ps","wl":1102,"v":-0.73},{"s":"0.4 ps","wl":1112,"v":-0.84},{"s":"0.4 ps","wl":1119,"v":-0.83},{"s":"0.4 ps","wl":1126,"v":-0.84},{"s":"0.4 ps","wl":1135,"v":-0.79},{"s":"0.4 ps","wl":1144,"v":-0.73},{"s":"0.4 ps","wl":1155,"v":-0.65},{"s":"0.4 ps","wl":1167,"v":-0.57},{"s":"0.4 ps","wl":1176,"v":-0.52},{"s":"0.4 ps","wl":1185,"v":-0.5},{"s":"0.4 ps","wl":1196,"v":-0.52},{"s":"0.4 ps","wl":1208,"v":-0.57},{"s":"0.4 ps","wl":1220,"v":-0.63},{"s":"0.4 ps","wl":1231,"v":-0.69},{"s":"0.4 ps","wl":1242,"v":-0.82},{"s":"0.4 ps","wl":1254,"v":-0.97},{"s":"0.4 ps","wl":1266,"v":-1.14},{"s":"0.4 ps","wl":1277,"v":-1.32},{"s":"0.4 ps","wl":1286,"v":-1.44},{"s":"0.4 ps","wl":1293,"v":-1.5},{"s":"0.4 ps","wl":1300,"v":-1.47},{"s":"0.4 ps","wl":1310,"v":-1.37},{"s":"0.4 ps","wl":1319,"v":-1.2},{"s":"0.4 ps","wl":1328,"v":-1.04},{"s":"0.4 ps","wl":1337,"v":-0.86},{"s":"0.4 ps","wl":1346,"v":-0.69},{"s":"0.4 ps","wl":1358,"v":-0.52},{"s":"0.4 ps","wl":1369,"v":-0.36},{"s":"0.4 ps","wl":1380,"v":-0.22},{"s":"0.4 ps","wl":1392,"v":-0.1},{"s":"0.4 ps","wl":1403,"v":0.0},{"s":"0.4 ps","wl":1415,"v":0.07},{"s":"0.4 ps","wl":1429,"v":0.12},{"s":"0.4 ps","wl":1443,"v":0.16},{"s":"0.4 ps","wl":1448,"v":0.18},
      {"s":"12 ps","wl":430,"v":0.36},{"s":"12 ps","wl":433,"v":0.1},{"s":"12 ps","wl":435,"v":-0.2},{"s":"12 ps","wl":440,"v":-0.96},{"s":"12 ps","wl":444,"v":-1.5},{"s":"12 ps","wl":448,"v":-2.1},{"s":"12 ps","wl":451,"v":-2.35},{"s":"12 ps","wl":455,"v":-1.9},{"s":"12 ps","wl":458,"v":-1.5},{"s":"12 ps","wl":465,"v":-1.15},{"s":"12 ps","wl":472,"v":-0.86},{"s":"12 ps","wl":478,"v":-1.2},{"s":"12 ps","wl":485,"v":-0.77},{"s":"12 ps","wl":490,"v":0.08},{"s":"12 ps","wl":493,"v":0.83},{"s":"12 ps","wl":500,"v":0.85},{"s":"12 ps","wl":510,"v":0.83},{"s":"12 ps","wl":518,"v":0.9},{"s":"12 ps","wl":524,"v":0.7},{"s":"12 ps","wl":530,"v":0.45},{"s":"12 ps","wl":537,"v":0.25},{"s":"12 ps","wl":545,"v":0.08},{"s":"12 ps","wl":560,"v":0.2},{"s":"12 ps","wl":575,"v":0.13},{"s":"12 ps","wl":590,"v":-0.11},{"s":"12 ps","wl":610,"v":-0.17},{"s":"12 ps","wl":630,"v":-0.06},{"s":"12 ps","wl":650,"v":-0.21},{"s":"12 ps","wl":670,"v":-0.3},{"s":"12 ps","wl":690,"v":-0.4},{"s":"12 ps","wl":700,"v":-0.55},{"s":"12 ps","wl":710,"v":-0.87},{"s":"12 ps","wl":725,"v":-1.43},{"s":"12 ps","wl":740,"v":-2.09},{"s":"12 ps","wl":750,"v":-2.47},{"s":"12 ps","wl":760,"v":-2.37},{"s":"12 ps","wl":770,"v":-1.9},{"s":"12 ps","wl":780,"v":-1.34},{"s":"12 ps","wl":790,"v":-0.77},{"s":"12 ps","wl":800,"v":-0.49},{"s":"12 ps","wl":815,"v":-0.4},{"s":"12 ps","wl":818,"v":-0.4},
      {"s":"12 ps","wl":821,"v":-0.29},{"s":"12 ps","wl":823,"v":-0.18},{"s":"12 ps","wl":826,"v":-0.1},{"s":"12 ps","wl":830,"v":0.05},{"s":"12 ps","wl":835,"v":0.18},{"s":"12 ps","wl":842,"v":0.3},{"s":"12 ps","wl":849,"v":0.39},{"s":"12 ps","wl":857,"v":0.47},{"s":"12 ps","wl":864,"v":0.51},{"s":"12 ps","wl":872,"v":0.49},{"s":"12 ps","wl":881,"v":0.47},{"s":"12 ps","wl":893,"v":0.45},{"s":"12 ps","wl":904,"v":0.42},{"s":"12 ps","wl":915,"v":0.36},{"s":"12 ps","wl":927,"v":0.28},{"s":"12 ps","wl":938,"v":0.18},{"s":"12 ps","wl":950,"v":0.09},{"s":"12 ps","wl":961,"v":0.04},{"s":"12 ps","wl":973,"v":0.01},{"s":"12 ps","wl":985,"v":0.01},{"s":"12 ps","wl":996,"v":0.03},{"s":"12 ps","wl":1008,"v":0.07},{"s":"12 ps","wl":1019,"v":0.1},{"s":"12 ps","wl":1030,"v":0.11},{"s":"12 ps","wl":1038,"v":0.11},{"s":"12 ps","wl":1047,"v":0.08},{"s":"12 ps","wl":1056,"v":0.04},{"s":"12 ps","wl":1066,"v":-0.03},{"s":"12 ps","wl":1075,"v":-0.12},{"s":"12 ps","wl":1084,"v":-0.23},{"s":"12 ps","wl":1093,"v":-0.33},{"s":"12 ps","wl":1102,"v":-0.42},{"s":"12 ps","wl":1112,"v":-0.47},{"s":"12 ps","wl":1121,"v":-0.44},{"s":"12 ps","wl":1130,"v":-0.38},{"s":"12 ps","wl":1139,"v":-0.25},{"s":"12 ps","wl":1148,"v":-0.1},{"s":"12 ps","wl":1158,"v":0.02},{"s":"12 ps","wl":1167,"v":0.09},{"s":"12 ps","wl":1176,"v":0.13},{"s":"12 ps","wl":1185,"v":0.15},{"s":"12 ps","wl":1196,"v":0.13},{"s":"12 ps","wl":1208,"v":0.1},{"s":"12 ps","wl":1220,"v":0.03},{"s":"12 ps","wl":1231,"v":-0.05},{"s":"12 ps","wl":1240,"v":-0.16},{"s":"12 ps","wl":1249,"v":-0.33},{"s":"12 ps","wl":1259,"v":-0.55},{"s":"12 ps","wl":1268,"v":-0.76},{"s":"12 ps","wl":1276,"v":-0.95},{"s":"12 ps","wl":1282,"v":-1.09},{"s":"12 ps","wl":1287,"v":-1.16},{"s":"12 ps","wl":1291,"v":-1.18},{"s":"12 ps","wl":1296,"v":-1.1},{"s":"12 ps","wl":1301,"v":-1.0},{"s":"12 ps","wl":1305,"v":-0.99},{"s":"12 ps","wl":1310,"v":-0.82},{"s":"12 ps","wl":1317,"v":-0.69},{"s":"12 ps","wl":1323,"v":-0.5},{"s":"12 ps","wl":1330,"v":-0.33},{"s":"12 ps","wl":1337,"v":-0.13},{"s":"12 ps","wl":1344,"v":0.04},{"s":"12 ps","wl":1352,"v":0.16},{"s":"12 ps","wl":1360,"v":0.23},{"s":"12 ps","wl":1372,"v":0.26},{"s":"12 ps","wl":1383,"v":0.28},{"s":"12 ps","wl":1395,"v":0.26},{"s":"12 ps","wl":1406,"v":0.25},{"s":"12 ps","wl":1418,"v":0.27},{"s":"12 ps","wl":1429,"v":0.23},{"s":"12 ps","wl":1438,"v":0.27},{"s":"12 ps","wl":1443,"v":0.21},{"s":"12 ps","wl":1448,"v":0.2}
    ],
    "absorb": [
      {"wl":400,"a":1.44},{"wl":405,"a":1.34},{"wl":410,"a":1.23},{"wl":414,"a":1.16},{"wl":418,"a":1.14},{"wl":422,"a":1.15},{"wl":426,"a":1.2},{"wl":432,"a":1.31},{"wl":440,"a":1.54},{"wl":447,"a":1.69},{"wl":452,"a":1.76},{"wl":456,"a":1.78},{"wl":462,"a":1.74},{"wl":470,"a":1.67},{"wl":476,"a":1.63},{"wl":480,"a":1.58},{"wl":485,"a":1.45},{"wl":490,"a":1.3},{"wl":495,"a":1.12},{"wl":500,"a":0.93},{"wl":505,"a":0.76},{"wl":510,"a":0.63},{"wl":515,"a":0.51},{"wl":521,"a":0.43},{"wl":527,"a":0.37},{"wl":540,"a":0.27},{"wl":555,"a":0.17},{"wl":570,"a":0.11},{"wl":585,"a":0.085},{"wl":600,"a":0.095},{"wl":620,"a":0.13},{"wl":640,"a":0.2},{"wl":660,"a":0.3},{"wl":680,"a":0.37},{"wl":695,"a":0.42},{"wl":705,"a":0.5},{"wl":715,"a":0.59},{"wl":730,"a":0.73},{"wl":740,"a":0.79},{"wl":747,"a":0.8},{"wl":755,"a":0.78},{"wl":765,"a":0.72},{"wl":780,"a":0.61},{"wl":795,"a":0.5},{"wl":803,"a":0.43},{"wl":810,"a":0.36},{"wl":825,"a":0.22},{"wl":840,"a":0.14},{"wl":860,"a":0.105},{"wl":880,"a":0.097},{"wl":900,"a":0.1},{"wl":920,"a":0.117},{"wl":945,"a":0.145},{"wl":970,"a":0.16},{"wl":1000,"a":0.165},{"wl":1030,"a":0.19},{"wl":1060,"a":0.23},{"wl":1085,"a":0.26},{"wl":1105,"a":0.27},{"wl":1125,"a":0.25},{"wl":1150,"a":0.2},{"wl":1175,"a":0.18},{"wl":1200,"a":0.185},{"wl":1230,"a":0.205},{"wl":1260,"a":0.24},{"wl":1285,"a":0.28},{"wl":1300,"a":0.26},{"wl":1320,"a":0.18},{"wl":1340,"a":0.1},{"wl":1360,"a":0.055},{"wl":1390,"a":0.025},{"wl":1420,"a":0.012},{"wl":1450,"a":0.008}
    ],
    "conc": [
      {"s":"S1","t":-0.54,"c":0},{"s":"S1","t":-0.3,"c":0},{"s":"S1","t":-0.22,"c":0.01},{"s":"S1","t":-0.17,"c":0.07},{"s":"S1","t":-0.1,"c":0.23},{"s":"S1","t":0.0,"c":0.47},{"s":"S1","t":0.08,"c":0.6},{"s":"S1","t":0.12,"c":0.63},{"s":"S1","t":0.2,"c":0.58},{"s":"S1","t":0.3,"c":0.45},{"s":"S1","t":0.38,"c":0.35},{"s":"S1","t":0.55,"c":0.21},{"s":"S1","t":0.7,"c":0.14},{"s":"S1","t":0.9,"c":0.094},{"s":"S1","t":1.1,"c":0.06},{"s":"S1","t":1.41,"c":0.034},{"s":"S1","t":1.93,"c":0.015},{"s":"S1","t":2.6,"c":0.004},{"s":"S1","t":3.5,"c":0},{"s":"S1","t":7,"c":0},{"s":"S1","t":50,"c":0},
      {"s":"S2","t":-0.54,"c":0},{"s":"S2","t":-0.15,"c":0},{"s":"S2","t":-0.05,"c":0.03},{"s":"S2","t":0.03,"c":0.07},{"s":"S2","t":0.15,"c":0.16},{"s":"S2","t":0.3,"c":0.26},{"s":"S2","t":0.55,"c":0.37},{"s":"S2","t":0.9,"c":0.43},{"s":"S2","t":1.2,"c":0.447},{"s":"S2","t":1.41,"c":0.453},{"s":"S2","t":1.93,"c":0.446},{"s":"S2","t":2.97,"c":0.418},{"s":"S2","t":4.0,"c":0.388},{"s":"S2","t":5.04,"c":0.355},{"s":"S2","t":6.07,"c":0.325},{"s":"S2","t":7.0,"c":0.297},{"s":"S2","t":8.5,"c":0.27},{"s":"S2","t":10.7,"c":0.21},{"s":"S2","t":13,"c":0.17},{"s":"S2","t":15.3,"c":0.14},{"s":"S2","t":18.5,"c":0.1},{"s":"S2","t":22.3,"c":0.073},{"s":"S2","t":25.5,"c":0.055},{"s":"S2","t":29.2,"c":0.038},{"s":"S2","t":32.5,"c":0.03},{"s":"S2","t":36.2,"c":0.022},{"s":"S2","t":43.1,"c":0.015},{"s":"S2","t":50,"c":0.01}
    ]
  },
  "vconcat": [
    {
      "width": 415, "height": 248,
      "layer": [
        {
          "layer": [
            {"data": {"values": [{}]}, "mark": {"type": "rule", "color": "black", "strokeWidth": 1}, "encoding": {"y": {"datum": 0}}},
            {"data": {"values": [{}]}, "mark": {"type": "rule", "color": "black", "strokeWidth": 1.2, "strokeDash": [3, 3]}, "encoding": {"x": {"datum": 820}}},
            {"data": {"values": [{}]}, "mark": {"type": "text", "fontSize": 20}, "encoding": {"x": {"datum": 1088}, "y": {"datum": 3.84}, "text": {"value": "TA raw"}}},
            {"data": {"values": [{}]}, "mark": {"type": "text", "fontSize": 21}, "encoding": {"x": {"datum": 1377}, "y": {"datum": 4.2}, "text": {"value": "A"}}},
            {"data": {"values": [{}]}, "mark": {"type": "text", "fontSize": 17}, "encoding": {"x": {"datum": 872}, "y": {"datum": -4.27}, "text": {"value": "×4"}}},
            {
              "data": {"name": "panelA"}, "transform": [{"filter": "datum.wl < 820"}],
              "mark": {"type": "line", "strokeWidth": 2},
              "encoding": {
                "x": {"field": "wl", "type": "quantitative", "scale": {"domain": [400, 1450], "nice": false, "zero": false},
                      "axis": {"orient": "bottom", "values": [400,450,500,550,600,650,700,750,800,850,900,950,1000,1050,1100,1150,1200,1250,1300,1350,1400], "labels": false, "title": null, "tickSize": {"condition": {"test": "datum.value % 200 === 0", "value": -9}, "value": -5}}},
                "y": {"field": "v", "type": "quantitative", "scale": {"domain": [-5, 5], "nice": false, "zero": false},
                      "axis": {"orient": "left", "values": [-4,-3,-2,-1,0,1,2,3,4], "labelExpr": "datum.value % 2 === 0 ? datum.label : ''", "tickSize": {"condition": {"test": "datum.value % 2 === 0", "value": -9}, "value": -5}, "title": null}},
                "color": {
                  "field": "s", "type": "nominal",
                  "scale": {"domain": ["0.3 ps", "10 ps", "1 ps", "50 ps"], "range": ["#1a1aff", "#ff1a1a", "#000000", "#e8972b"]},
                  "legend": {
                    "title": null, "orient": "none", "legendX": 77, "legendY": 173, "columns": 2, "columnPadding": 18,
                    "encode": {"labels": {"update": {"fill": {"signal": "datum.label === 'inf' || datum.label === '50 ps' ? '#e8972b' : datum.label === '1 ps' ? '#000000' : indexof(['10 ps','10.5 ps','12.7 ps','10.6 ps','13.0 ps','12 ps'], datum.label) >= 0 ? '#ff1a1a' : '#1a1aff'"}}}}
                  }
                }
              }
            }
          ]
        },
        {
          "data": {"name": "panelA"}, "transform": [{"filter": "datum.wl > 820"}],
          "mark": {"type": "line", "strokeWidth": 2},
          "encoding": {
            "x": {"field": "wl", "type": "quantitative", "scale": {"domain": [400, 1450], "nice": false, "zero": false}, "axis": null},
            "y": {"field": "v", "type": "quantitative", "scale": {"domain": [-1.25, 1.25], "nice": false, "zero": false},
                  "axis": {"orient": "right", "values": [-1,-0.5,0,0.5,1], "format": "d", "labelPadding": 21, "labelExpr": "datum.value % 1 === 0 ? datum.label : ''", "tickSize": {"condition": {"test": "datum.value % 1 === 0", "value": -9}, "value": -5}, "title": null}},
            "color": {"field": "s", "type": "nominal", "scale": {"domain": ["0.3 ps", "10 ps", "1 ps", "50 ps"], "range": ["#1a1aff", "#ff1a1a", "#000000", "#e8972b"]}, "legend": null}
          }
        }
      ],
      "resolve": {"scale": {"y": "independent"}}
    },
    {
      "width": 415, "height": 249,
      "layer": [
        {
          "layer": [
            {"data": {"values": [{}]}, "mark": {"type": "rule", "color": "black", "strokeWidth": 1}, "encoding": {"y": {"datum": 0}}},
            {"data": {"values": [{}]}, "mark": {"type": "rule", "color": "black", "strokeWidth": 1.2, "strokeDash": [3, 3]}, "encoding": {"x": {"datum": 820}}},
            {"data": {"values": [{}]}, "mark": {"type": "text", "fontSize": 20}, "encoding": {"x": {"datum": 1086}, "y": {"datum": 6.3}, "text": {"value": "TA DADS"}}},
            {"data": {"values": [{}]}, "mark": {"type": "text", "fontSize": 21}, "encoding": {"x": {"datum": 1369}, "y": {"datum": 7.05}, "text": {"value": "B"}}},
            {"data": {"values": [{}]}, "mark": {"type": "text", "fontSize": 17}, "encoding": {"x": {"datum": 867}, "y": {"datum": -7.4}, "text": {"value": "×4"}}},
            {
              "data": {"name": "panelB"}, "transform": [{"filter": "datum.wl < 820"}],
              "mark": {"type": "line", "strokeWidth": 2},
              "encoding": {
                "x": {"field": "wl", "type": "quantitative", "scale": {"domain": [400, 1450], "nice": false, "zero": false},
                      "axis": {"orient": "bottom", "values": [400,450,500,550,600,650,700,750,800,850,900,950,1000,1050,1100,1150,1200,1250,1300,1350,1400], "labels": false, "title": null, "tickSize": {"condition": {"test": "datum.value % 200 === 0", "value": -9}, "value": -5}}},
                "y": {"field": "v", "type": "quantitative", "scale": {"domain": [-9, 9], "nice": false, "zero": false},
                      "axis": {"orient": "left", "values": [-8,-6,-4,-2,0,2,4,6,8], "labelExpr": "datum.value % 4 === 0 ? datum.label : ''", "tickSize": {"condition": {"test": "datum.value % 4 === 0", "value": -9}, "value": -5}, "title": "ΔA × 100", "titlePadding": 29}},
                "color": {
                  "field": "s", "type": "nominal",
                  "scale": {"domain": ["0.28 ps", "10.5 ps", "inf"], "range": ["#1a1aff", "#ff1a1a", "#e8972b"]},
                  "legend": {
                    "title": null, "orient": "none", "legendX": 66, "legendY": 174,
                    "encode": {"labels": {"update": {"fill": {"signal": "datum.label === 'inf' || datum.label === '50 ps' ? '#e8972b' : datum.label === '1 ps' ? '#000000' : indexof(['10 ps','10.5 ps','12.7 ps','10.6 ps','13.0 ps','12 ps'], datum.label) >= 0 ? '#ff1a1a' : '#1a1aff'"}}}}
                  }
                }
              }
            }
          ]
        },
        {
          "data": {"name": "panelB"}, "transform": [{"filter": "datum.wl > 820"}],
          "mark": {"type": "line", "strokeWidth": 2},
          "encoding": {
            "x": {"field": "wl", "type": "quantitative", "scale": {"domain": [400, 1450], "nice": false, "zero": false}, "axis": null},
            "y": {"field": "v", "type": "quantitative", "scale": {"domain": [-2.25, 2.25], "nice": false, "zero": false},
                  "axis": {"orient": "right", "values": [-2,-1,0,1,2], "labelPadding": 21, "labelExpr": "datum.value % 2 === 0 ? datum.label : ''", "tickSize": {"condition": {"test": "datum.value % 2 === 0", "value": -9}, "value": -5}, "title": "ΔA ×100", "titlePadding": 5}},
            "color": {
              "field": "s", "type": "nominal",
              "scale": {"domain": ["0.57 ps", "12.7 ps", "inf"], "range": ["#1a1aff", "#ff1a1a", "#e8972b"]},
              "legend": {
                "title": null, "orient": "none", "legendX": 237, "legendY": 174,
                "encode": {"labels": {"update": {"fill": {"signal": "datum.label === 'inf' || datum.label === '50 ps' ? '#e8972b' : datum.label === '1 ps' ? '#000000' : indexof(['10 ps','10.5 ps','12.7 ps','10.6 ps','13.0 ps','12 ps'], datum.label) >= 0 ? '#ff1a1a' : '#1a1aff'"}}}}
              }
            }
          }
        }
      ],
      "resolve": {"scale": {"y": "independent", "color": "independent"}}
    },
    {
      "width": 415, "height": 249,
      "layer": [
        {
          "layer": [
            {"data": {"values": [{}]}, "mark": {"type": "rule", "color": "black", "strokeWidth": 1}, "encoding": {"y": {"datum": 0}}},
            {"data": {"values": [{}]}, "mark": {"type": "rule", "color": "black", "strokeWidth": 1.2, "strokeDash": [5, 2, 1, 2]}, "encoding": {"x": {"datum": 820}}},
            {"data": {"values": [{}]}, "mark": {"type": "text", "fontSize": 20}, "encoding": {"x": {"datum": 1086}, "y": {"datum": 5.9}, "text": {"value": "TA EADS"}}},
            {"data": {"values": [{}]}, "mark": {"type": "text", "fontSize": 21}, "encoding": {"x": {"datum": 1377}, "y": {"datum": 7.5}, "text": {"value": "C"}}},
            {"data": {"values": [{}]}, "mark": {"type": "text", "fontSize": 17}, "encoding": {"x": {"datum": 864}, "y": {"datum": -7.1}, "text": {"value": "×4"}}},
            {
              "data": {"name": "panelC"}, "transform": [{"filter": "datum.wl < 820"}],
              "mark": {"type": "line", "strokeWidth": 2},
              "encoding": {
                "x": {"field": "wl", "type": "quantitative", "scale": {"domain": [400, 1450], "nice": false, "zero": false},
                      "axis": {"orient": "bottom", "values": [400,450,500,550,600,650,700,750,800,850,900,950,1000,1050,1100,1150,1200,1250,1300,1350,1400], "labels": false, "title": null, "tickSize": {"condition": {"test": "datum.value % 200 === 0", "value": -9}, "value": -5}}},
                "y": {"field": "v", "type": "quantitative", "scale": {"domain": [-9, 9], "nice": false, "zero": false},
                      "axis": {"orient": "left", "values": [-8,-6,-4,-2,0,2,4,6,8], "labelExpr": "datum.value % 4 === 0 ? datum.label : ''", "tickSize": {"condition": {"test": "datum.value % 4 === 0", "value": -9}, "value": -5}, "title": null}},
                "color": {
                  "field": "s", "type": "nominal",
                  "scale": {"domain": ["2.8 ps", "10.6 ps", "inf"], "range": ["#1a1aff", "#ff1a1a", "#e8972b"]},
                  "legend": {
                    "title": null, "orient": "none", "legendX": 59, "legendY": 172,
                    "encode": {"labels": {"update": {"fill": {"signal": "datum.label === 'inf' || datum.label === '50 ps' ? '#e8972b' : datum.label === '1 ps' ? '#000000' : indexof(['10 ps','10.5 ps','12.7 ps','10.6 ps','13.0 ps','12 ps'], datum.label) >= 0 ? '#ff1a1a' : '#1a1aff'"}}}}
                  }
                }
              }
            }
          ]
        },
        {
          "data": {"name": "panelC"}, "transform": [{"filter": "datum.wl > 820"}],
          "mark": {"type": "line", "strokeWidth": 2},
          "encoding": {
            "x": {"field": "wl", "type": "quantitative", "scale": {"domain": [400, 1450], "nice": false, "zero": false}, "axis": null},
            "y": {"field": "v", "type": "quantitative", "scale": {"domain": [-2.25, 2.25], "nice": false, "zero": false},
                  "axis": {"orient": "right", "values": [-2,-1,0,1,2], "labelPadding": 21, "labelExpr": "datum.value % 2 === 0 ? datum.label : ''", "tickSize": {"condition": {"test": "datum.value % 2 === 0", "value": -9}, "value": -5}, "title": null}},
            "color": {
              "field": "s", "type": "nominal",
              "scale": {"domain": ["0.57 ps", "13.0 ps", "inf"], "range": ["#1a1aff", "#ff1a1a", "#e8972b"]},
              "legend": {
                "title": null, "orient": "none", "legendX": 237, "legendY": 172,
                "encode": {"labels": {"update": {"fill": {"signal": "datum.label === 'inf' || datum.label === '50 ps' ? '#e8972b' : datum.label === '1 ps' ? '#000000' : indexof(['10 ps','10.5 ps','12.7 ps','10.6 ps','13.0 ps','12 ps'], datum.label) >= 0 ? '#ff1a1a' : '#1a1aff'"}}}}
              }
            }
          }
        }
      ],
      "resolve": {"scale": {"y": "independent", "color": "independent"}}
    },
    {
      "width": 415, "height": 249,
      "layer": [
        {
          "layer": [
            {"data": {"values": [{}]}, "mark": {"type": "rule", "color": "black", "strokeWidth": 1.3}, "encoding": {"y": {"datum": 0}}},
            {"data": {"values": [{}]}, "mark": {"type": "rule", "color": "black", "strokeWidth": 1.2, "strokeDash": [3, 3]}, "encoding": {"x": {"datum": 820}}},
            {"data": {"values": [{}]}, "mark": {"type": "text", "fontSize": 20}, "encoding": {"x": {"datum": 1088}, "y": {"datum": 5.48}, "text": {"value": "TA SADS"}}},
            {"data": {"values": [{}]}, "mark": {"type": "text", "fontSize": 21}, "encoding": {"x": {"datum": 1380}, "y": {"datum": 5.76}, "text": {"value": "D"}}},
            {"data": {"values": [{}]}, "mark": {"type": "text", "fontSize": 17}, "encoding": {"x": {"datum": 867}, "y": {"datum": -5.2}, "text": {"value": "×4"}}},
            {
              "data": {"name": "panelD"}, "transform": [{"filter": "datum.wl < 820"}],
              "mark": {"type": "line", "strokeWidth": 2},
              "encoding": {
                "x": {"field": "wl", "type": "quantitative", "scale": {"domain": [400, 1450], "nice": false, "zero": false},
                      "axis": {"orient": "bottom", "values": [400,450,500,550,600,650,700,750,800,850,900,950,1000,1050,1100,1150,1200,1250,1300,1350,1400], "labels": false, "title": null, "tickSize": {"condition": {"test": "datum.value % 200 === 0", "value": -9}, "value": -5}}},
                "y": {"field": "v", "type": "quantitative", "scale": {"domain": [-7, 7], "nice": false, "zero": false},
                      "axis": {"orient": "left", "values": [-6,-3,0,3,6], "tickSize": -9, "title": null}},
                "color": {
                  "field": "s", "type": "nominal",
                  "scale": {"domain": ["0.4 ps", "12 ps"], "range": ["#1a1aff", "#ff1a1a"]},
                  "legend": {
                    "title": null, "orient": "none", "legendX": 69, "legendY": 181,
                    "encode": {"labels": {"update": {"fill": {"signal": "datum.label === '12 ps' ? '#ff1a1a' : '#1a1aff'"}}}}
                  }
                }
              }
            }
          ]
        },
        {
          "data": {"name": "panelD"}, "transform": [{"filter": "datum.wl > 820"}],
          "mark": {"type": "line", "strokeWidth": 2},
          "encoding": {
            "x": {"field": "wl", "type": "quantitative", "scale": {"domain": [400, 1450], "nice": false, "zero": false}, "axis": null},
            "y": {"field": "v", "type": "quantitative", "scale": {"domain": [-1.75, 1.75], "nice": false, "zero": false},
                  "axis": {"orient": "right", "values": [-1,0,1], "labelPadding": 21, "tickSize": -9, "title": null}},
            "color": {"field": "s", "type": "nominal", "scale": {"domain": ["0.4 ps", "12 ps"], "range": ["#1a1aff", "#ff1a1a"]}, "legend": null}
          }
        }
      ],
      "resolve": {"scale": {"y": "independent"}}
    },
    {
      "width": 415, "height": 248,
      "layer": [
        {
          "layer": [
            {"data": {"values": [{}]}, "mark": {"type": "text", "fontSize": 21}, "encoding": {"x": {"datum": 1384}, "y": {"datum": 1.71}, "text": {"value": "E"}}},
            {
              "data": {"name": "absorb"},
              "mark": {"type": "line", "strokeWidth": 2.5, "color": "black"},
              "encoding": {
                "x": {"field": "wl", "type": "quantitative", "scale": {"domain": [400, 1450], "nice": false, "zero": false},
                      "axis": {"orient": "bottom", "values": [400,450,500,550,600,650,700,750,800,850,900,950,1000,1050,1100,1150,1200,1250,1300,1350,1400], "format": "d", "labelExpr": "datum.value % 200 === 0 ? datum.label : ''", "labelFontSize": 20, "labelPadding": 20, "title": "Wavelength (nm)", "titleFontSize": 25, "titlePadding": 14, "tickSize": {"condition": {"test": "datum.value % 200 === 0", "value": -9}, "value": -5}}},
                "y": {"field": "a", "type": "quantitative", "scale": {"domain": [-0.1, 1.958], "nice": false, "zero": false},
                      "axis": {"orient": "left", "values": [0, 0.5, 1, 1.5], "format": ".1f", "tickSize": -9, "title": "Absorbance", "titlePadding": 26}}
              }
            }
          ]
        },
        {
          "layer": [
            {
              "data": {"values": [{}]},
              "mark": {"type": "rect", "fill": "white", "stroke": "black", "strokeWidth": 1.5},
              "encoding": {
                "x": {"datum": -0.54, "type": "quantitative", "scale": {"domain": [-0.54, 7], "range": [160, 306], "nice": false, "zero": false},
                      "axis": {"orient": "bottom", "offset": -121.5, "values": [0, 1.5, 3, 4.5, 6], "format": "d", "labelExpr": "datum.value % 3 === 0 ? datum.label : ''", "tickSize": -6, "labelFontSize": 17, "labelPadding": 19, "title": "Time (ps)", "titleFontSize": 19, "titleX": 268, "titlePadding": 1}},
                "x2": {"datum": 10.22},
                "y": {"datum": -0.056, "type": "quantitative", "scale": {"domain": [-0.056, 0.7], "range": [126.5, 18], "nice": false, "zero": false},
                      "axis": {"orient": "left", "offset": -160, "values": [0, 0.5], "format": ".1f", "tickSize": 12, "labelFontSize": 17, "labelPadding": 4, "title": "Conc.", "titleFontSize": 17, "titlePadding": 4}},
                "y2": {"datum": 0.7}
              }
            },
            {
              "data": {"name": "conc"}, "transform": [{"filter": "datum.t <= 7"}],
              "mark": {"type": "line", "strokeWidth": 2},
              "encoding": {
                "x": {"field": "t", "type": "quantitative"},
                "y": {"field": "c", "type": "quantitative"},
                "color": {"field": "s", "type": "nominal", "scale": {"domain": ["S1", "S2"], "range": ["#1a1aff", "#ff1a1a"]}, "legend": null}
              }
            },
            {"data": {"values": [{}]}, "mark": {"type": "rule", "color": "black", "strokeWidth": 1.2}, "encoding": {"x": {"datum": 6.85}, "x2": {"datum": 7.08}, "y": {"datum": 0.628}, "y2": {"datum": 0.79}}},
            {"data": {"values": [{}]}, "mark": {"type": "rule", "color": "black", "strokeWidth": 1.2}, "encoding": {"x": {"datum": 6.94}, "x2": {"datum": 7.11}, "y": {"datum": -0.13}, "y2": {"datum": 0.022}}}
          ]
        },
        {
          "data": {"name": "conc"}, "transform": [{"filter": "datum.t >= 7"}],
          "mark": {"type": "line", "strokeWidth": 2},
          "encoding": {
            "x": {"field": "t", "type": "quantitative", "scale": {"domain": [7, 50], "range": [306, 368], "nice": false, "zero": false},
                  "axis": {"orient": "bottom", "offset": -121.5, "values": [7, 20, 30, 40], "labelExpr": "datum.value === 20 || datum.value === 40 ? datum.label : ''", "tickSize": -6, "labelFontSize": 17, "labelPadding": 19, "title": null}},
            "y": {"field": "c", "type": "quantitative", "scale": {"domain": [-0.056, 0.7], "range": [126.5, 18], "nice": false, "zero": false}, "axis": null},
            "color": {"field": "s", "type": "nominal", "scale": {"domain": ["S1", "S2"], "range": ["#1a1aff", "#ff1a1a"]}, "legend": null}
          }
        }
      ],
      "resolve": {"scale": {"x": "independent", "y": "independent", "color": "independent"}}
    }
  ],
  "resolve": {"scale": {"x": "independent", "y": "independent", "color": "independent"}},
  "config": {
    "font": "Liberation Sans",
    "view": {"stroke": "black", "strokeWidth": 2},
    "axis": {"domain": false, "grid": false, "labelFlush": false, "tickColor": "black", "tickWidth": 1.5, "labelColor": "black", "labelFontSize": 18, "labelPadding": 12, "titleColor": "black", "titleFontSize": 24, "titleFontWeight": "normal"},
    "legend": {"symbolType": "M-4,0H4", "symbolSize": 100, "symbolStrokeWidth": 2.5, "labelFontSize": 17, "labelOffset": 16, "padding": 0, "rowPadding": 3, "labelLimit": 0},
    "text": {"color": "black"}
  }
}
